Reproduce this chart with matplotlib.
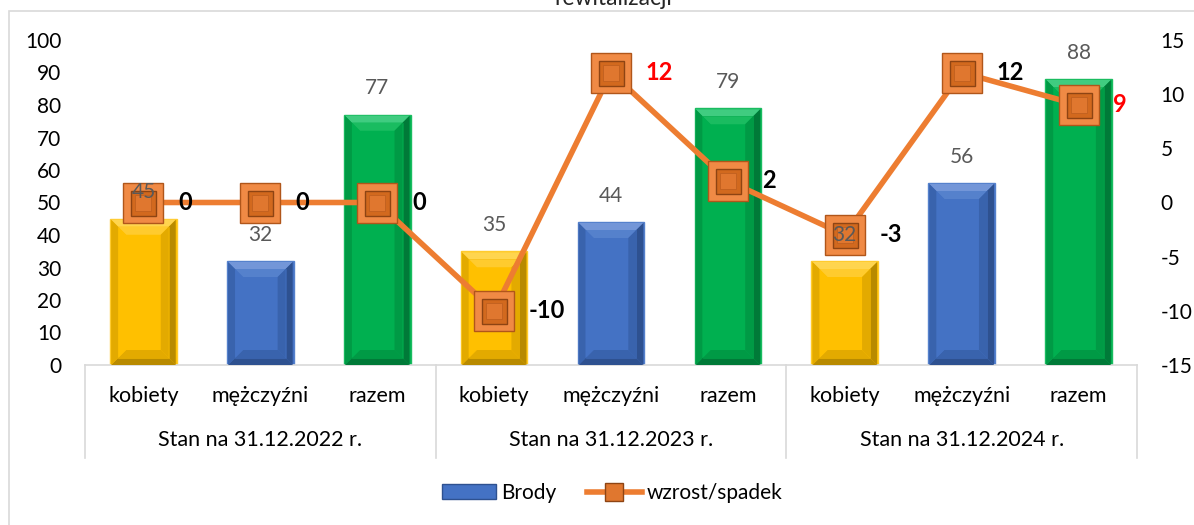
import matplotlib
matplotlib.use("Agg")
import matplotlib.pyplot as plt
from matplotlib.patches import Rectangle, Polygon, Patch
from matplotlib.lines import Line2D
import matplotlib.transforms as mtransforms

plt.rcParams['font.family'] = ['Lato', 'DejaVu Sans']

categories = ["kobiety", "mężczyźni", "razem"] * 3
groups = ["Stan na 31.12.2022 r.", "Stan na 31.12.2023 r.", "Stan na 31.12.2024 r."]
bar_values = [45, 32, 77, 35, 44, 79, 32, 56, 88]
line_values = [0, 0, 0, -10, 12, 2, -3, 12, 9]
line_label_colors = ["black", "black", "black", "black", "red", "black", "black", "black", "red"]
bar_kinds = ["k", "m", "r"] * 3
left_ticks = list(range(0, 101, 10))
right_ticks = list(range(-15, 16, 5))
title_text = "rewitalizacji"
bar_series_name = "Brody"
line_series_name = "wzrost/spadek"

# base, light, dark, slightly light, slightly dark
palette = {
    "k": ("#FFC000", "#FFD54F", "#B88A00", "#FFCB2E", "#E3AA00"),
    "m": ("#4472C4", "#7396D8", "#2E5190", "#5581CC", "#3963AD"),
    "r": ("#00B050", "#40CC80", "#007A38", "#1ABC60", "#009A45"),
}
orange = "#ED7D31"

W, H = 1194, 525
fig = plt.figure(figsize=(W / 100, H / 100), dpi=100)
ax_l, ax_r, ax_t, ax_b = 85, 1137, 40, 365
ax = fig.add_axes([ax_l / W, 1 - ax_b / H, (ax_r - ax_l) / W, (ax_b - ax_t) / H])
ax2 = ax.twinx()

# chart border
fig.patches.append(Rectangle((9 / W, -0.2), 1.5, (H - 11) / H + 0.2, transform=fig.transFigure,
                             fill=False, edgecolor="#D9D9D9", linewidth=1.2))
fig.text(613 / W, 1 - 5 / H, title_text, ha="center", va="baseline", fontsize=16.5, color="#262626")

n = len(bar_values)
x = list(range(n))
width = 0.57
ax.set_xlim(-0.5, n - 0.5)
ax.set_ylim(0, 100)
ax2.set_ylim(-15, 15)

px_x = n / (ax_r - ax_l)            # data units per px in x
px_y = 100 / (ax_b - ax_t)          # data units per px in y


def bevel(x0, x1, y0, y1, bx, by, top, bottom, left, right, z):
    ax.add_patch(Polygon([(x0, y1), (x1, y1), (x1 - bx, y1 - by), (x0 + bx, y1 - by)],
                         closed=True, facecolor=top, edgecolor="none", zorder=z))
    ax.add_patch(Polygon([(x0, y0), (x1, y0), (x1 - bx, y0 + by), (x0 + bx, y0 + by)],
                         closed=True, facecolor=bottom, edgecolor="none", zorder=z))
    ax.add_patch(Polygon([(x0, y0), (x0, y1), (x0 + bx, y1 - by), (x0 + bx, y0 + by)],
                         closed=True, facecolor=left, edgecolor="none", zorder=z))
    ax.add_patch(Polygon([(x1, y0), (x1, y1), (x1 - bx, y1 - by), (x1 - bx, y0 + by)],
                         closed=True, facecolor=right, edgecolor="none", zorder=z))


bars = ax.bar(x, bar_values, width=width, color=[palette[k][0] for k in bar_kinds],
              edgecolor=[palette[k][3] for k in bar_kinds], linewidth=1.0, zorder=2)
for rect, k in zip(bars, bar_kinds):
    base, light, dark, sl, sd = palette[k]
    x0 = rect.get_x()
    x1 = x0 + rect.get_width()
    y0, y1 = 0, rect.get_height()
    b1x, b1y = 7 * px_x, 7 * px_y
    bevel(x0 + px_x, x1 - px_x, y0, y1 - px_y, b1x, b1y, light, dark, sd, dark, 3)
    ix0, ix1, iy0, iy1 = x0 + px_x + b1x, x1 - px_x - b1x, y0 + b1y, y1 - px_y - b1y
    ax.add_patch(Rectangle((ix0, iy0), ix1 - ix0, iy1 - iy0,
                           facecolor=base, edgecolor=sd, linewidth=0.6, zorder=3.5))
    b2x, b2y = 8 * px_x, min(8 * px_y, (iy1 - iy0) / 3)
    bevel(ix0, ix1, iy0, iy1, b2x, b2y, sl, sd, base, sd, 4)

# axes styling
for s in ["top", "left", "right"]:
    ax.spines[s].set_visible(False)
    ax2.spines[s].set_visible(False)
ax2.spines["bottom"].set_visible(False)
ax.spines["bottom"].set_color("#D9D9D9")
ax.spines["bottom"].set_linewidth(1.2)
ax.set_xticks([])
ax.set_yticks(left_ticks)
ax2.set_yticks(right_ticks)
ax2.set_yticklabels([str(t) for t in right_ticks])
ax.tick_params(axis="y", length=0, pad=17, labelsize=15, labelcolor="black")
ax2.tick_params(axis="y", length=0, pad=17, labelsize=15, labelcolor="black")

# category axis labels and separators
trans = mtransforms.blended_transform_factory(ax.transData, ax.transAxes)
for i, c in enumerate(categories):
    ax.text(i, -31 / 325, c, transform=trans, ha="center", va="center", fontsize=15.5, color="black")
for g, name in enumerate(groups):
    ax.text(g * 3 + 1, -75 / 325, name, transform=trans, ha="center", va="center", fontsize=15.5, color="black")
for b in [-0.5, 2.5, 5.5, 8.5]:
    ax.add_line(Line2D([b, b], [0, -93 / 325], transform=trans, color="#D9D9D9", linewidth=1.2, clip_on=False))

# line series
ax2.plot(x, line_values, color=orange, linewidth=4, zorder=5, solid_capstyle="round")
ax2.plot(x, line_values, linestyle="none", marker="s", markersize=28.5, markerfacecolor="#F08A45",
         markeredgecolor="#B0561A", markeredgewidth=1, zorder=6)
ax2.plot(x, line_values, linestyle="none", marker="s", markersize=18, markerfacecolor="#D2691E",
         markeredgecolor="#8E4413", markeredgewidth=1, zorder=7)
ax2.plot(x, line_values, linestyle="none", marker="s", markersize=11, markerfacecolor="#E0772F",
         markeredgecolor="#C0601F", markeredgewidth=0.6, zorder=8)

for i, (v, col) in enumerate(zip(line_values, line_label_colors)):
    ax2.annotate(str(v), (i, v), xytext=(25, 0), textcoords="offset points", ha="left", va="center",
                 fontsize=17, fontweight="bold", color=col, zorder=10)

for i, v in enumerate(bar_values):
    ax2.annotate(str(v), (i, v), xycoords=ax.transData, xytext=(0, 19), textcoords="offset points",
                 ha="center", va="center", fontsize=15, color="#595959", zorder=11)

# legend
h_bar = Patch(facecolor=palette["m"][0], edgecolor=palette["m"][2], linewidth=1)
h_line = Line2D([0], [0], color=orange, linewidth=4, marker="s", markersize=13,
                markerfacecolor="#E0772F", markeredgecolor="#8E4413")
fig.legend([h_bar, h_line], [bar_series_name, line_series_name], loc="center",
           bbox_to_anchor=(612 / W, 1 - 493 / H), ncol=2, frameon=False, fontsize=15,
           handlelength=2.6, handleheight=0.7, columnspacing=1.5, handletextpad=0.25)

fig.savefig("out.png", dpi=100)
